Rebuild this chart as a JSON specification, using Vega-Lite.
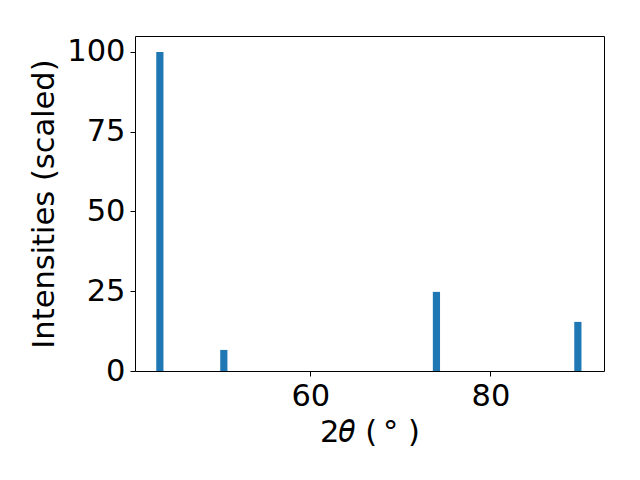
{
  "$schema": "https://vega.github.io/schema/vega-lite/v6.json",
  "width": 469,
  "height": 335,
  "autosize": {"type": "none"},
  "padding": {"left": 135, "top": 36, "right": 36, "bottom": 109},
  "background": "white",
  "config": {
    "font": "DejaVu Sans",
    "view": {"stroke": "black", "strokeWidth": 1},
    "axis": {
      "domain": false,
      "grid": false,
      "tickColor": "black",
      "tickSize": 5,
      "tickWidth": 1,
      "labelColor": "black",
      "labelFont": "DejaVu Sans",
      "labelFontSize": 30.5,
      "labelPadding": 5,
      "titleFont": "DejaVu Sans",
      "titleFontSize": 30.5,
      "titleFontWeight": "normal",
      "titleColor": "black"
    }
  },
  "data": {
    "values": [
      {"two_theta": 43.3, "intensity": 100},
      {"two_theta": 50.4, "intensity": 6.6},
      {"two_theta": 74.0, "intensity": 24.8},
      {"two_theta": 89.7, "intensity": 15.4}
    ]
  },
  "mark": {"type": "bar", "size": 7.2, "color": "#1f77b4"},
  "encoding": {
    "x": {
      "field": "two_theta",
      "type": "quantitative",
      "scale": {"domain": [40.54, 92.6], "nice": false, "zero": false, "padding": 0},
      "axis": {"values": [60, 80], "title": "2𝜃 (\u2009°\u00a0)", "titlePadding": 6, "labelFlush": false}
    },
    "y": {
      "field": "intensity",
      "type": "quantitative",
      "scale": {"domain": [0, 105], "nice": false, "padding": 0},
      "axis": {"values": [0, 25, 50, 75, 100], "title": "Intensities (scaled)", "titlePadding": 7, "labelFlush": false}
    }
  }
}
